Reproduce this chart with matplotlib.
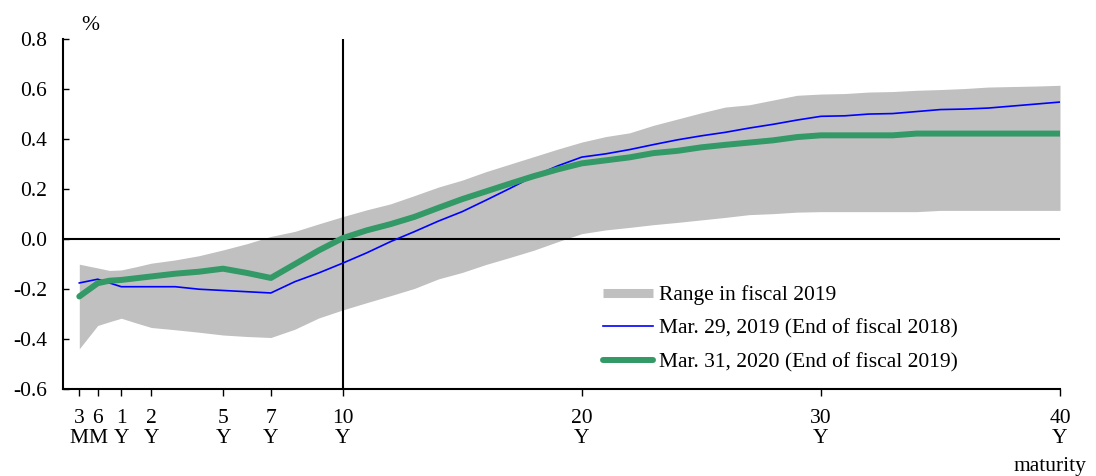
import numpy as np
import matplotlib
matplotlib.use("Agg")
import matplotlib.pyplot as plt
from matplotlib.lines import Line2D

plt.rcParams['font.family'] = ['Liberation Serif', 'DejaVu Serif']
plt.rcParams['font.size'] = 15.5

# maturity in years
maturity = [0.25, 0.5, 0.75, 1, 1.5, 2, 3, 4, 5, 6, 7, 8, 9, 10,
            11, 12, 13, 14, 15, 16, 17, 18, 19, 20,
            21, 22, 23, 24, 25, 26, 27, 28, 29, 30,
            31, 32, 33, 34, 35, 36, 37, 38, 39, 40]

# range in fiscal 2019 (upper / lower)
range_high = [-0.100, -0.115, -0.125, -0.123, -0.110, -0.096, -0.083, -0.066, -0.043, -0.018,
              0.011, 0.031, 0.061, 0.090, 0.117, 0.141, 0.174, 0.208, 0.236, 0.270,
              0.300, 0.330, 0.360, 0.388, 0.410, 0.425, 0.455, 0.480, 0.505, 0.528,
              0.537, 0.556, 0.575, 0.580, 0.582, 0.588, 0.590, 0.595, 0.598, 0.602,
              0.608, 0.610, 0.612, 0.615]
range_low = [-0.438, -0.345, -0.330, -0.316, -0.335, -0.353, -0.362, -0.372, -0.383, -0.389,
             -0.393, -0.360, -0.315, -0.283, -0.254, -0.226, -0.197, -0.159, -0.133, -0.101,
             -0.073, -0.044, -0.010, 0.022, 0.037, 0.047, 0.058, 0.067, 0.077, 0.087,
             0.098, 0.102, 0.108, 0.110, 0.110, 0.110, 0.110, 0.110, 0.115, 0.115,
             0.115, 0.115, 0.115, 0.115]

# Mar. 29, 2019
yc_2019 = [-0.175, -0.160, -0.175, -0.190, -0.190, -0.190, -0.190, -0.200, -0.205, -0.210,
           -0.215, -0.170, -0.135, -0.096, -0.055, -0.010, 0.030, 0.072, 0.110, 0.156,
           0.203, 0.252, 0.293, 0.328, 0.341, 0.358, 0.378, 0.397, 0.413, 0.427,
           0.444, 0.459, 0.476, 0.491, 0.493, 0.500, 0.502, 0.510, 0.518, 0.520,
           0.524, 0.532, 0.540, 0.548]

# Mar. 31, 2020
yc_2020 = [-0.229, -0.176, -0.166, -0.163, -0.156, -0.149, -0.138, -0.130, -0.118, -0.135,
           -0.155, -0.100, -0.045, 0.004, 0.035, 0.060, 0.089, 0.125, 0.160, 0.191,
           0.222, 0.252, 0.279, 0.303, 0.315, 0.327, 0.344, 0.353, 0.367, 0.377,
           0.386, 0.395, 0.408, 0.415, 0.415, 0.415, 0.415, 0.422, 0.422, 0.422,
           0.422, 0.422, 0.422, 0.422]

tick_years = [0.25, 0.5, 1, 2, 5, 7, 10, 20, 30, 40]
tick_labels = ['3\nM', '6\nM', '1\nY', '2\nY', '5\nY', '7\nY', '10\nY', '20\nY', '30\nY', '40\nY']
y_ticks = [-0.6, -0.4, -0.2, 0.0, 0.2, 0.4, 0.6, 0.8]

# eje x: tramo corto estirado, lineal desde 2 años
knot_yr = [0, 0.25, 0.5, 1, 2, 40, 50]
knot_pos = [63, 79.3, 97.7, 121.3, 151.3, 1060, 1299]


def fwd(x):
    return np.interp(x, knot_yr, knot_pos)


def inv(p):
    return np.interp(p, knot_pos, knot_yr)


fig = plt.figure(figsize=(10.96, 4.76), dpi=100)
ax = fig.add_axes([63 / 1096, 1 - 389.3 / 476, 997 / 1096, 350.3 / 476])
ax.set_xscale('function', functions=(fwd, inv))

ax.fill_between(maturity, range_low, range_high, color='#c0c0c0', lw=0, zorder=1)
ax.axhline(0, color='black', lw=1.5, zorder=2)
ax.axvline(10, color='black', lw=1.5, zorder=2)
ax.plot(maturity, yc_2019, color='#0000ff', lw=1.2, zorder=3)
ax.plot(maturity, yc_2020, color='#339966', lw=4.3, solid_capstyle='round', zorder=4)

ax.set_xlim(0, 40)
ax.set_ylim(-0.6, 0.8)
ax.set_xticks(tick_years)
ax.set_xticklabels(tick_labels, linespacing=1.1)
ax.xaxis.set_minor_locator(matplotlib.ticker.NullLocator())
ax.set_yticks(y_ticks)
ax.set_yticklabels(['%.1f' % v for v in y_ticks])

for s in ['top', 'right']:
    ax.spines[s].set_visible(False)
for s in ['left', 'bottom']:
    ax.spines[s].set_linewidth(1.5)
ax.tick_params(axis='y', direction='in', length=4, width=1, pad=11.5)
ax.tick_params(axis='x', direction='out', length=5, width=1, pad=9)

handles = [Line2D([], [], color='#c0c0c0', lw=6.5, solid_capstyle='butt'),
           Line2D([], [], color='#0000ff', lw=1.2),
           Line2D([], [], color='#339966', lw=4.3, solid_capstyle='round')]
labels = ['Range in fiscal 2019', 'Mar. 29, 2019 (End of fiscal 2018)',
          'Mar. 31, 2020 (End of fiscal 2019)']
ax.legend(handles, labels, loc='upper left', bbox_to_anchor=(603 / 1096, 1 - 285 / 476),
          bbox_transform=fig.transFigure, frameon=False, borderpad=0, borderaxespad=0,
          handlelength=2.33, handletextpad=0.28, labelspacing=0.64)

fig.text(90 / 1096, 1 - 26 / 476, '%', ha='center', va='center')
fig.text(1050 / 1096, 5 / 476, 'maturity', ha='center', va='baseline')

fig.savefig('out.png', dpi=100)
